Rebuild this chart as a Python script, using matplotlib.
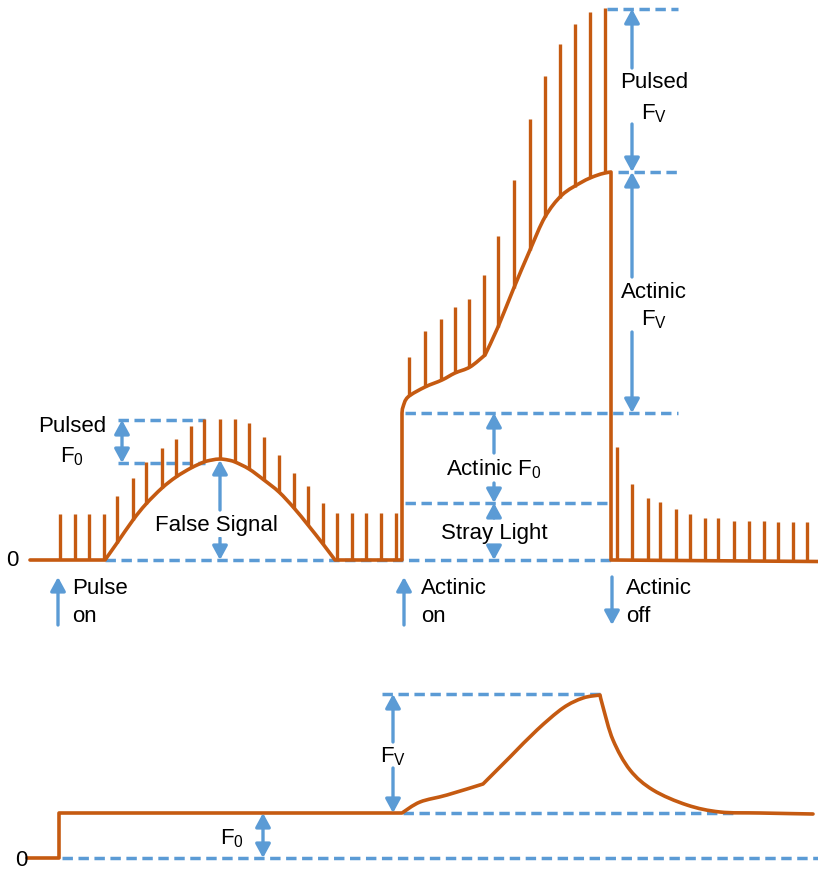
import numpy as np
import matplotlib
matplotlib.use("Agg")
import matplotlib.pyplot as plt
from matplotlib.path import Path
from matplotlib.patches import PathPatch

plt.rcParams['font.family'] = ['Liberation Sans', 'DejaVu Sans']
plt.rcParams['mathtext.fontset'] = 'custom'
plt.rcParams['mathtext.rm'] = 'Liberation Sans'
plt.rcParams['mathtext.it'] = 'Liberation Sans:italic'
plt.rcParams['mathtext.bf'] = 'Liberation Sans:bold'

ORANGE = '#C55A11'
BLUE = '#5B9BD5'

# ---------------- top panel data (signal above baseline) ----------------
pre_pulse_x = [60, 75, 89, 104]
pre_pulse_top = [46, 46, 46, 46]

hump_x = [105, 117, 133, 146, 162, 176, 191, 204, 212, 220, 228, 235, 249, 264, 279, 294, 308, 323, 335]
hump_s = [0, 17, 40, 56, 72, 83, 92, 98, 100, 101, 100, 98, 91, 80, 68, 52, 35, 16, 0]

hump_pulse_x = [117, 133, 146, 162, 176, 191, 204, 220, 235, 249, 264, 279, 294, 308, 323]
hump_pulse_top = [64, 82, 98, 112, 121, 134, 141, 141, 141, 137, 123, 105, 87, 74, 57]

post_pulse_x = [337, 352, 366, 381, 396]
post_pulse_top = [47, 47, 47, 47, 47]

act_x1 = [402, 403, 408, 425, 442, 455, 470, 485]
act_s1 = [147, 153, 163, 173, 180, 187, 193, 205]
act_x2 = [485, 498, 513, 530, 545, 562, 582, 595, 605, 611]
act_s2 = [205, 233, 270, 310, 343, 365, 378, 384, 387, 388]

act_pulse_x = [409, 425, 441, 455, 469, 484, 498, 514, 530, 545, 560, 575, 590, 605]
act_pulse_top = [203, 229, 241, 253, 261, 285, 324, 380, 441, 484, 516, 536, 548, 552]

dark_pulse_x = [617, 632, 648, 660, 676, 690, 705, 718, 734, 749, 764, 778, 793, 807]
dark_pulse_top = [113, 76, 62, 58, 51, 46, 42, 42, 39, 39, 39, 38, 38, 38]

# reference levels (top panel)
pulsed_f0_hi, pulsed_f0_lo = 140, 97
act_f0_level, stray_level = 147, 57
act_fv_level, pulsed_fv_level = 388, 551

# ---------------- bottom panel data ----------------
bot_rise1_x = [402, 420, 447, 483]
bot_rise1_s = [45, 56, 63, 74]
bot_rise2_x = [483, 510, 537, 563, 583, 600]
bot_rise2_s = [74, 101, 128, 150, 160, 163]
bot_decay_x = [600, 603, 613, 630, 653, 687, 720, 760, 813]
bot_decay_s = [163, 151, 118, 88, 68, 53, 46, 45, 44]
bot_f0_level, bot_fv_level = 45, 164

# ---------------- figure ----------------
W, H = 818, 869
fig = plt.figure(figsize=(W / 100, H / 100), dpi=100)
ax = fig.add_axes([0, 0, 1, 1])
ax.set_xlim(0, W)
ax.set_ylim(560 - H, 560)
ax.axis('off')
axb = fig.add_axes([0, 0, 1, 1])
axb.set_xlim(0, W)
axb.set_ylim(858 - H, 858)
axb.axis('off')
axb.patch.set_alpha(0)

LW = 2.6
PLW = 2.4
DASH = dict(color=BLUE, lw=2.5, dashes=(3.0, 1.6), dash_capstyle='butt', zorder=1)
FS = 16


def hdash(a, y, x0, x1):
    a.plot([x0, x1], [y, y], **DASH)


def arrow(a, x, y0, y1, style='-|>'):
    a.annotate('', xy=(x, y1), xytext=(x, y0),
               arrowprops=dict(arrowstyle=style + ',head_length=0.55,head_width=0.3',
                               color=BLUE, lw=2.4, shrinkA=0, shrinkB=0,
                               mutation_scale=15), zorder=3)


def smooth(xs, ys):
    """Bezier (Catmull-Rom) segments through the given points, for Path drawing."""
    P = np.column_stack([xs, ys]).astype(float)
    n = len(P)
    verts, codes = [], []
    for i in range(n - 1):
        p0 = P[i - 1] if i > 0 else P[i]
        p1, p2 = P[i], P[i + 1]
        p3 = P[i + 2] if i + 2 < n else P[i + 1]
        c1 = p1 + (p2 - p0) / 6.0
        c2 = p2 - (p3 - p1) / 6.0
        verts += [c1, c2, p2]
        codes += [Path.CURVE4] * 3
    return verts, codes


def draw_trace(a, pieces):
    verts, codes = [], []
    for kind, xs, ys in pieces:
        if not verts:
            verts.append((xs[0], ys[0]))
            codes.append(Path.MOVETO)
        if kind == 'line':
            for x, y in zip(xs[1:], ys[1:]):
                verts.append((x, y))
                codes.append(Path.LINETO)
        else:
            v, c = smooth(xs, ys)
            verts += v
            codes += c
    patch = PathPatch(Path(verts, codes), facecolor='none', edgecolor=ORANGE,
                      lw=LW, joinstyle='round', capstyle='round', zorder=2)
    a.add_patch(patch)


# dashed reference lines (top)
hdash(ax, 0, 105, 611)
hdash(ax, pulsed_f0_hi, 118, 205)
hdash(ax, pulsed_f0_lo, 118, 205)
hdash(ax, act_f0_level, 405, 678)
hdash(ax, stray_level, 405, 607)
hdash(ax, act_fv_level, 618, 678)
hdash(ax, pulsed_fv_level, 607, 678)

# main trace (top)
draw_trace(ax, [
    ('line', [30, 105], [0, 0]),
    ('smooth', hump_x, hump_s),
    ('line', [335, 402, 402], [0, 0, 147]),
    ('smooth', act_x1, act_s1),
    ('smooth', act_x2, act_s2),
    ('line', [611, 611, 818], [388, 0, -1.5]),
])


def pulses(xs, tops, base_x=None, base_s=None):
    xs = np.asarray(xs, float)
    if base_x is None:
        bases = np.zeros_like(xs)
    else:
        bases = np.interp(xs, base_x, base_s)
    ax.vlines(xs, bases, tops, color=ORANGE, lw=PLW, zorder=2)


pulses(pre_pulse_x, pre_pulse_top)
pulses(hump_pulse_x, hump_pulse_top, hump_x, hump_s)
pulses(post_pulse_x, post_pulse_top)
pulses(act_pulse_x, act_pulse_top, act_x1 + act_x2, act_s1 + act_s2)
pulses(dark_pulse_x, dark_pulse_top)

# arrows (top)
arrow(ax, 122, pulsed_f0_lo, pulsed_f0_hi, '<|-|>')
arrow(ax, 220, 50, 100)
arrow(ax, 220, 22, 0)
arrow(ax, 494, 107, act_f0_level)
arrow(ax, 494, 77, stray_level)
arrow(ax, 494, 42, stray_level)
arrow(ax, 494, 13, 0)
arrow(ax, 632, 492, pulsed_fv_level)
arrow(ax, 632, 436, act_fv_level)
arrow(ax, 632, 283, act_fv_level)
arrow(ax, 632, 228, act_f0_level)
arrow(ax, 58, -65, -17)
arrow(ax, 404, -65, -17)
arrow(ax, 612, -17, -65)

# texts (top)
ax.text(12, 0, '0', fontsize=FS, ha='center', va='center')
ax.text(72, 133, 'Pulsed', fontsize=FS, ha='center', va='center')
ax.text(72, 103, r'$\mathrm{F}_\mathrm{0}$', fontsize=FS, ha='center', va='center')
ax.text(216, 34, 'False Signal', fontsize=FS, ha='center', va='center',
        bbox=dict(facecolor='white', edgecolor='none', pad=0), zorder=4)
ax.text(72, -29, 'Pulse', fontsize=FS, ha='left', va='center')
ax.text(72, -56, 'on', fontsize=FS, ha='left', va='center')
ax.text(421, -28, 'Actinic', fontsize=FS, ha='left', va='center')
ax.text(421, -56, 'on', fontsize=FS, ha='left', va='center')
ax.text(626, -28, 'Actinic', fontsize=FS, ha='left', va='center')
ax.text(626, -56, 'off', fontsize=FS, ha='left', va='center')
ax.text(494, 91, r'Actinic $\mathrm{F}_\mathrm{0}$', fontsize=FS, ha='center', va='center')
ax.text(494, 26, 'Stray Light', fontsize=FS, ha='center', va='center')
ax.text(654, 477, 'Pulsed', fontsize=FS, ha='center', va='center')
ax.text(654, 446, r'$\mathrm{F}_\mathrm{V}$', fontsize=FS, ha='center', va='center')
ax.text(654, 268, 'Actinic', fontsize=FS, ha='center', va='center')
ax.text(654, 240, r'$\mathrm{F}_\mathrm{V}$', fontsize=FS, ha='center', va='center')

# ---------------- bottom panel ----------------
hdash(axb, 0, 62, 818)
hdash(axb, bot_f0_level, 403, 735)
hdash(axb, bot_fv_level, 382, 600)
draw_trace(axb, [
    ('line', [27, 59, 59, 402], [0, 0, 45, 45]),
    ('smooth', bot_rise1_x, bot_rise1_s),
    ('smooth', bot_rise2_x, bot_rise2_s),
    ('smooth', bot_decay_x, bot_decay_s),
])
arrow(axb, 263, bot_f0_level, 0, '<|-|>')
arrow(axb, 393, 116, bot_fv_level)
arrow(axb, 393, 90, bot_f0_level)
axb.text(21, -2, '0', fontsize=FS, ha='center', va='center')
axb.text(232, 19, r'$\mathrm{F}_\mathrm{0}$', fontsize=FS, ha='center', va='center')
axb.text(393, 101, r'$\mathrm{F}_\mathrm{V}$', fontsize=FS, ha='center', va='center')

fig.savefig('out.png', dpi=100, facecolor='white')
